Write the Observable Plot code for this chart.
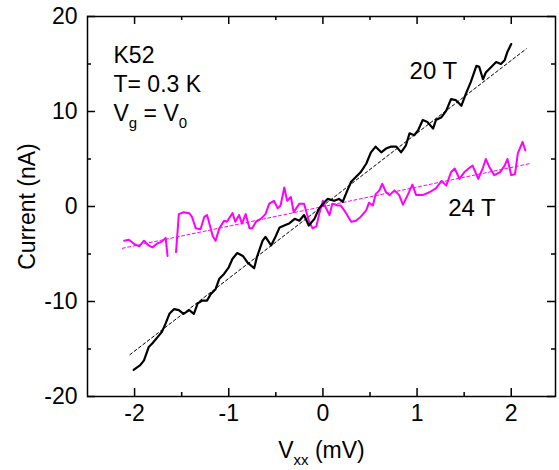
<!DOCTYPE html>
<html><head><meta charset="utf-8">
<script src="https://cdn.jsdelivr.net/npm/d3@7"></script>
<script src="https://cdn.jsdelivr.net/npm/@observablehq/plot@0.6"></script>
<style>body{margin:0;background:#fff}svg{display:block}</style>
</head><body><div id="chart"></div>
<script>
// ---- data ----
const xTicks = [-2, -1, 0, 1, 2];
const xMinor = [-1.5, -0.5, 0.5, 1.5];
const yTicks = [-20, -10, 0, 10, 20];
const yMinor = [-15, -5, 5, 15];

const v20 = [-2.01,-1.94,-1.90,-1.85,-1.81,-1.76,-1.71,-1.67,-1.63,-1.58,-1.53,-1.48,-1.42,-1.37,-1.33,-1.28,-1.23,-1.19,-1.14,-1.10,-1.05,-1.00,-0.96,-0.91,-0.85,-0.80,-0.73,-0.70,-0.64,-0.61,-0.55,-0.50,-0.46,-0.41,-0.36,-0.30,-0.25,-0.20,-0.15,-0.09,-0.04,0.01,0.05,0.12,0.17,0.21,0.26,0.30,0.35,0.40,0.46,0.51,0.56,0.62,0.67,0.72,0.78,0.83,0.88,0.92,0.97,1.01,1.06,1.11,1.17,1.20,1.26,1.31,1.36,1.41,1.47,1.52,1.57,1.63,1.66,1.70,1.73,1.79,1.84,1.89,1.93,1.96,2.00];
const i20 = [-17.2,-16.7,-16.2,-14.8,-14.4,-13.8,-13.2,-12.3,-11.3,-10.8,-10.9,-11.3,-10.9,-11.3,-10.2,-9.9,-9.9,-9.2,-8.7,-7.6,-7.1,-6.4,-5.5,-4.9,-5.2,-5.9,-6.5,-5.3,-3.6,-3.2,-4.1,-3.1,-2.2,-2.0,-1.8,-1.3,-1.5,-0.9,-2.0,-1.3,-0.2,0.4,0.8,0.6,0.8,0.5,1.7,2.6,3.1,3.6,4.5,5.7,6.3,5.7,6.1,6.3,6.3,5.7,6.4,7.7,7.5,8.0,9.1,8.9,8.2,9.1,9.4,10.1,11.3,11.2,10.6,11.9,13.1,14.8,14.7,13.4,14.1,14.7,15.2,15.0,15.4,16.3,17.1];

const v24 = [-2.11,-2.06,-2.01,-1.95,-1.90,-1.85,-1.81,-1.76,-1.71,-1.67,-1.65,-1.60,-1.56,-1.53,-1.48,-1.42,-1.39,-1.35,-1.30,-1.26,-1.23,-1.20,-1.17,-1.14,-1.10,-1.05,-1.02,-0.96,-0.93,-0.89,-0.86,-0.82,-0.78,-0.75,-0.71,-0.66,-0.61,-0.57,-0.52,-0.48,-0.45,-0.41,-0.38,-0.34,-0.31,-0.25,-0.20,-0.15,-0.11,-0.07,-0.04,0.00,0.03,0.07,0.10,0.16,0.19,0.24,0.30,0.35,0.40,0.46,0.49,0.53,0.56,0.60,0.63,0.67,0.71,0.76,0.81,0.85,0.90,0.95,0.99,1.06,1.13,1.20,1.26,1.31,1.36,1.40,1.45,1.50,1.56,1.59,1.65,1.70,1.73,1.77,1.82,1.88,1.93,1.96,2.00,2.04,2.07,2.12,2.15];
const i24 = [-3.6,-3.5,-3.9,-4.2,-3.6,-4.1,-4.3,-3.9,-3.7,-3.3,-5.2,null,-4.8,-0.8,-0.6,-0.7,-1.1,-2.3,-2.4,-1.1,-0.9,-2.0,-3.1,-3.6,-2.3,-1.5,-1.6,-0.7,-1.6,-0.9,-1.8,-0.8,-2.3,-2.3,-1.6,-1.3,-0.8,0.3,0.6,-0.2,0.1,2.0,0.6,1.0,-0.6,0.3,0.3,-1.5,-2.3,-2.1,-0.8,0.6,-0.1,-0.9,0.3,0.1,0.1,-0.6,-1.6,-1.5,-1.1,-0.4,0.4,0.1,1.3,1.7,2.4,1.5,1.2,1.7,1.2,0.2,1.2,2.3,1.2,1.2,1.5,1.9,2.7,2.2,3.6,4.0,2.9,3.6,4.1,4.3,2.9,4.1,5.0,4.1,3.3,3.6,4.3,5.0,3.3,3.4,5.6,6.8,5.9];

const fit20V = [-2.05, 2.16], fit20I = [-15.6, 16.6];
const fit24V = [-2.13, 2.19], fit24I = [-4.4, 4.5];

const seriesLabels = ["20 T", "24 T"];
const labelV = [0.92, 1.33];
const labelI = [13.4, -1.05];
const infoLines = ["K52", "T= 0.3 K", "V_{g} = V_{0}"];

// ---- layout ----
const W = 559, H = 470, mL = 87, mR = 4, mT = 16, mB = 74;
const fw = W - mL - mR, fh = H - mT - mB;
const infoBase = [46, 75, 104];

const rows = (xs, ys) => xs.map((x, k) => ({x, y: ys[k]}));
const d20 = rows(v20, i20), d24 = rows(v24, i24);
const f20 = rows(fit20V, fit20I), f24 = rows(fit24V, fit24I);
const labs = seriesLabels.map((t, k) => ({t, x: labelV[k], y: labelI[k]}));

const font = 23;
const svg = Plot.plot({
  width: W, height: H,
  marginLeft: mL, marginRight: mR, marginTop: mT, marginBottom: mB,
  style: {fontFamily: "'Liberation Sans', Arial, sans-serif", color: "black", background: "white"},
  x: {domain: [-2.5, 2.47]},
  y: {domain: [-20, 20]},
  marks: [
    Plot.ruleX(xTicks, {x: d => d, insetTop: fh - 8, strokeWidth: 1.5}),
    Plot.ruleX(xTicks, {x: d => d, insetBottom: fh - 8, strokeWidth: 1.5}),
    Plot.ruleX(xMinor, {x: d => d, insetTop: fh - 4, strokeWidth: 1.5}),
    Plot.ruleX(xMinor, {x: d => d, insetBottom: fh - 4, strokeWidth: 1.5}),
    Plot.ruleY(yTicks, {y: d => d, insetRight: fw - 8, strokeWidth: 1.5}),
    Plot.ruleY(yTicks, {y: d => d, insetLeft: fw - 8, strokeWidth: 1.5}),
    Plot.ruleY(yMinor, {y: d => d, insetRight: fw - 4, strokeWidth: 1.5}),
    Plot.ruleY(yMinor, {y: d => d, insetLeft: fw - 4, strokeWidth: 1.5}),
    Plot.axisX(xTicks, {tickSize: 0, tickPadding: 8, fontSize: 23, tickFormat: d => String(d), label: null}),
    Plot.axisY(yTicks, {tickSize: 0, tickPadding: 10, fontSize: 23, tickFormat: d => String(d), label: null}),
    Plot.frame({stroke: "black", strokeWidth: 1.5}),
    Plot.line(f24, {x: "x", y: "y", stroke: "#ff00ff", strokeWidth: 1, strokeDasharray: "3,2.5"}),
    Plot.line(f20, {x: "x", y: "y", stroke: "black", strokeWidth: 1, strokeDasharray: "3,2.5"}),
    Plot.line(d24, {x: "x", y: "y", stroke: "#ff00ff", strokeWidth: 2}),
    Plot.line(d20, {x: "x", y: "y", stroke: "black", strokeWidth: 2.2}),
    Plot.text(labs, {x: "x", y: "y", text: "t", textAnchor: "start", lineAnchor: "bottom", fontSize: 24, fill: "black"}),
    ...infoLines.map((t, k) => Plot.text([t], {frameAnchor: "top-left", dx: 26, dy: infoBase[k], textAnchor: "start", lineAnchor: "bottom", fontSize: font, fill: "black"})),
    Plot.text(["Current (nA)"], {frameAnchor: "left", dx: -60, rotate: -90, textAnchor: "middle", fontSize: font, fill: "black"}),
    Plot.text(["V_{xx} (mV)"], {frameAnchor: "bottom", dy: 61, lineAnchor: "bottom", textAnchor: "middle", fontSize: font, fill: "black"})
  ]
});

// subscripts
d3.select(svg).selectAll("text").each(function() {
  const t = this.textContent;
  if (!t.includes("_{")) return;
  const parts = t.split(/(_\{[^}]*\})/).filter(p => p);
  this.textContent = "";
  let shifted = false;
  for (const p of parts) {
    const sub = p.startsWith("_{");
    const ts = d3.select(this).append("tspan").text(sub ? p.slice(2, -1) : p);
    if (sub) ts.attr("dy", 7).attr("font-size", 15);
    else if (shifted) ts.attr("dy", -7);
    shifted = sub;
  }
});

document.getElementById("chart").appendChild(svg);
</script>
</body></html>
